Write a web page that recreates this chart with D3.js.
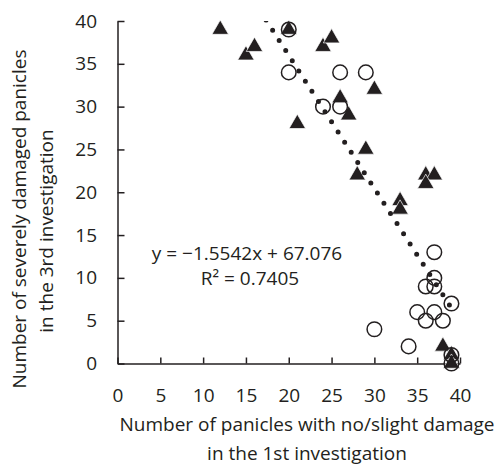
<!DOCTYPE html>
<html>
<head>
<meta charset="utf-8">
<script src="https://cdn.jsdelivr.net/npm/d3@7"></script>
<style>
  body { margin: 0; background: #fff; }
  text { font-family: "Open Sans", Lato, sans-serif; fill: #231f20; }
</style>
</head>
<body>
<div class="container"></div>
<script>
// filled triangles
var triX = [12, 15, 16, 20, 21, 24, 25, 26, 27, 28, 29, 30, 33, 33, 36, 37, 36, 38, 39, 39];
var triY = [39, 36, 37, 39, 28, 37, 38, 31, 29, 22, 25, 32, 19, 18, 22, 22, 21, 2, 1, 0];
// open circles
var circX = [20, 20, 24, 26, 26, 29, 30, 34, 37, 37, 36, 37, 39, 35, 37, 36, 38, 39, 39];
var circY = [39, 34, 30, 30, 34, 34, 4, 2, 13, 10, 9, 9, 7, 6, 6, 5, 5, 1, 0];
var ticks = [0, 5, 10, 15, 20, 25, 30, 35, 40];
var slope = -1.5542, intercept = 67.076, r2 = 0.7405;
var fitRange = [12, 39];

var W = 497, H = 469;
var fs = "19px";
var svg = d3.select(".container")
  .append("svg")
    .attr("width", W)
    .attr("height", H);

var x = d3.scaleLinear().domain([0, 40]).range([117.5, 460]);
var y = d3.scaleLinear().domain([0, 40]).range([363.5, 21]);

svg.append("defs").append("clipPath")
  .attr("id", "plot")
  .append("rect")
    .attr("x", x(0)).attr("y", y(40))
    .attr("width", x(40) - x(0) + 20).attr("height", y(0) - y(40) + 20);

var xAxis = svg.append("g")
  .attr("transform", "translate(0," + y(0) + ")")
  .call(d3.axisBottom(x).tickValues(ticks).tickSizeInner(-6).tickSizeOuter(0).tickPadding(25));

var yAxis = svg.append("g")
  .attr("transform", "translate(" + x(0) + ",0)")
  .call(d3.axisLeft(y).tickValues(ticks).tickSizeInner(-7).tickSizeOuter(0).tickPadding(20.5));

[xAxis, yAxis].forEach(function(g) {
  g.selectAll("path, line").attr("stroke", "#231f20").attr("stroke-width", 1.5);
  g.selectAll("text").style("font-size", fs).style("font-family", "'Open Sans', Lato, sans-serif").attr("fill", "#231f20");
});

// triangles
svg.selectAll(".tri")
  .data(triX.map(function(v, i) { return [v, triY[i]]; }))
  .enter()
  .append("path")
    .attr("class", "tri")
    .attr("d", d3.symbol(d3.symbolTriangle, 118))
    .attr("transform", function(d) { return "translate(" + x(d[0]) + "," + y(d[1]) + ")"; })
    .attr("fill", "#231f20")
    .attr("stroke", "#fff")
    .attr("stroke-width", 0.7);

// circles
svg.selectAll(".circ")
  .data(circX.map(function(v, i) { return [v, circY[i]]; }))
  .enter()
  .append("circle")
    .attr("class", "circ")
    .attr("cx", function(d) { return x(d[0]); })
    .attr("cy", function(d) { return y(d[1]); })
    .attr("r", 7.3)
    .attr("fill", "none")
    .attr("stroke", "#231f20")
    .attr("stroke-width", 1.5);

// dotted linear trend line
svg.append("line")
  .attr("clip-path", "url(#plot)")
  .attr("x1", x(fitRange[0]))
  .attr("y1", y(slope * fitRange[0] + intercept))
  .attr("x2", x(fitRange[1]))
  .attr("y2", y(slope * fitRange[1] + intercept))
  .attr("stroke", "#231f20")
  .attr("stroke-width", 5)
  .attr("stroke-linecap", "round")
  .attr("stroke-dasharray", "0 12.1");

svg.append("text")
  .attr("x", 247)
  .attr("y", 260)
  .attr("text-anchor", "middle")
  .style("font-size", fs)
  .text("y = \u22121.5542x + 67.076");

svg.append("text")
  .attr("x", 250)
  .attr("y", 285)
  .attr("text-anchor", "middle")
  .style("font-size", fs)
  .text("R\u00b2 = " + r2);

// axis titles
svg.append("text")
  .attr("x", 307)
  .attr("y", 431)
  .attr("text-anchor", "middle")
  .style("font-size", fs)
  .text("Number of panicles with no/slight damage");

svg.append("text")
  .attr("x", 307)
  .attr("y", 460)
  .attr("text-anchor", "middle")
  .style("font-size", fs)
  .text("in the 1st investigation");

svg.append("text")
  .attr("transform", "translate(26,219) rotate(-90)")
  .attr("text-anchor", "middle")
  .style("font-size", fs)
  .text("Number of severely damaged panicles");

svg.append("text")
  .attr("transform", "translate(53,231) rotate(-90)")
  .attr("text-anchor", "middle")
  .style("font-size", fs)
  .text("in the 3rd investigation");
</script>
</body>
</html>
